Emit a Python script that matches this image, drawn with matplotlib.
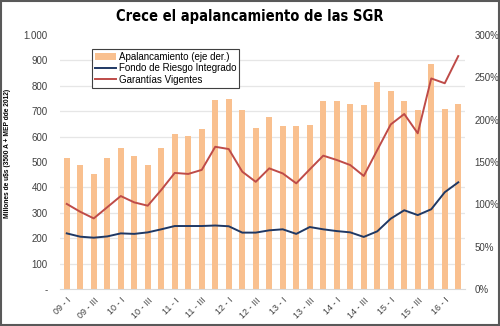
import numpy as np
import matplotlib
matplotlib.use("Agg")
import matplotlib.pyplot as plt
from matplotlib.patches import Rectangle

# trimestres 2009-I a 2016-II
trimestres = ['09 - I', '09 - II', '09 - III', '09 - IV',
              '10 - I', '10 - II', '10 - III', '10 - IV',
              '11 - I', '11 - II', '11 - III', '11 - IV',
              '12 - I', '12 - II', '12 - III', '12 - IV',
              '13 - I', '13 - II', '13 - III', '13 - IV',
              '14 - I', '14 - II', '14 - III', '14 - IV',
              '15 - I', '15 - II', '15 - III', '15 - IV',
              '16 - I', '16 - II']

# apalancamiento (%) - eje derecho
apalancamiento = [155, 146, 136, 155, 166, 157, 146, 166, 183, 181,
                  189, 223, 224, 211, 190, 203, 193, 193, 194, 222,
                  222, 218, 217, 244, 234, 222, 212, 266, 213, 218]

# millones de u$s - eje izquierdo
fondo_riesgo = [219, 206, 202, 207, 219, 217, 223, 235, 248, 248,
                248, 250, 247, 222, 222, 231, 235, 217, 244, 235,
                228, 223, 205, 227, 277, 310, 291, 314, 381, 420]

garantias = [335, 304, 278, 322, 366, 341, 328, 390, 457, 453,
             469, 560, 551, 462, 422, 475, 455, 416, 471, 525,
             508, 488, 445, 547, 648, 689, 613, 829, 810, 917]

col_barra = '#F9C08F'
col_fondo = '#1F3864'
col_gar = '#BE4B48'
fuente = 'Liberation Sans'

fig = plt.figure(figsize=(5.0, 3.26), dpi=100)
ax = fig.add_axes([0.12, 0.1135, 0.81, 0.7791])
ax2 = ax.twinx()

x = np.arange(len(trimestres))

# barras en el eje derecho, detras de las lineas
barras = ax2.bar(x, apalancamiento, width=0.42, color=col_barra,
                 label='Apalancamiento (eje der.)', zorder=2)
ax2.set_ylim(0, 300)
ax2.set_yticks(np.arange(0, 301, 50))
ax2.set_yticklabels(['%d%%' % v for v in range(0, 301, 50)],
                    fontsize=7, family=fuente, color='#404040')
# grilla alineada con el eje izquierdo (cada 100 millones = 30%)
ax2.set_yticks(np.arange(30, 301, 30), minor=True)
ax2.grid(which='minor', axis='y', color='#E6E6E6', lw=0.9, zorder=0)
ax2.tick_params(which='both', length=0, pad=7)

ax.set_zorder(ax2.get_zorder() + 1)
ax.patch.set_visible(False)

l1, = ax.plot(x, fondo_riesgo, color=col_fondo, lw=1.4,
              label='Fondo de Riesgo Integrado')
l2, = ax.plot(x, garantias, color=col_gar, lw=1.4,
              label='Garantías Vigentes')

ax.set_ylim(0, 1000)
ax.set_xlim(-0.5, len(trimestres) - 0.5)
ax.set_yticks(np.arange(0, 1001, 100))
ax.set_yticklabels(['-'] + ['{:,}'.format(v).replace(',', '.')
                            for v in range(100, 1001, 100)],
                   fontsize=7, family=fuente, color='#404040')
ax.tick_params(axis='y', length=0, pad=9)

ax.set_xticks(x[::2])
ax.set_xticklabels(trimestres[::2], rotation=45, ha='right',
                   rotation_mode='anchor', fontsize=6.5, family=fuente,
                   color='#404040')
ax.tick_params(axis='x', length=0, pad=5)

for a in (ax, ax2):
    for s in a.spines.values():
        s.set_visible(False)
ax.spines['bottom'].set_visible(True)
ax.spines['bottom'].set_color('#D9D9D9')

ax.set_ylabel('Millones de u$s (3500 A + MEP dde 2012)', fontsize=4.8,
              fontweight='bold', family=fuente)
ax.yaxis.set_label_coords(-0.122, 0.535)

leg = ax.legend([barras, l1, l2],
                ['Apalancamiento (eje der.)', 'Fondo de Riesgo Integrado',
                 'Garantías Vigentes'],
                loc='upper left', bbox_to_anchor=(0.078, 0.945),
                prop={'family': fuente, 'size': 7}, fancybox=False,
                framealpha=1, edgecolor='#404040', borderpad=0.3,
                labelspacing=0.15, handlelength=2.2, handletextpad=0.3,
                borderaxespad=0)
leg.get_frame().set_linewidth(0.8)

fig.text(0.5, 0.948, 'Crece el apalancamiento de las SGR', ha='center',
         va='center', fontsize=10.5, fontweight='bold',
         family='DejaVu Sans', fontstretch='condensed')

fig.patches.append(Rectangle((0.002, 0.003), 0.996, 0.994,
                             transform=fig.transFigure, fill=False,
                             edgecolor='#595959', lw=1.5))

fig.savefig('out.png', dpi=100)
